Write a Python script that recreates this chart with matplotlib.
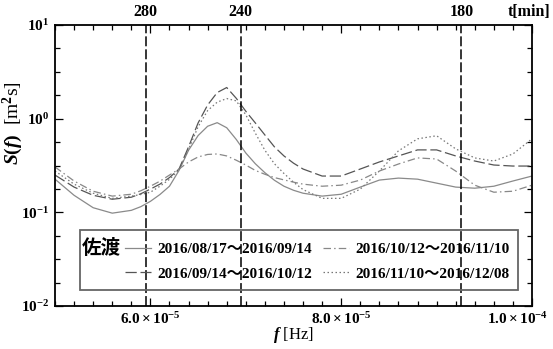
import numpy as np
import matplotlib
matplotlib.use('Agg')
import matplotlib.pyplot as plt
from matplotlib.patches import Rectangle
from matplotlib.ticker import FixedLocator, MultipleLocator, LogLocator, NullFormatter, FixedFormatter
import matplotlib.transforms as mtransforms

plt.rcParams['font.family'] = ['Liberation Serif', 'Noto Sans CJK JP']
plt.rcParams['font.weight'] = 'bold'
plt.rcParams['mathtext.fontset'] = 'custom'
plt.rcParams['mathtext.rm'] = 'Liberation Serif:bold'
plt.rcParams['mathtext.it'] = 'Liberation Serif:italic:bold'
plt.rcParams['mathtext.bf'] = 'Liberation Serif:bold'

# frequency grid [x1e-5 Hz]
freq = np.array([5.0, 5.2, 5.4, 5.6, 5.8, 5.9, 6.0, 6.1, 6.2, 6.3, 6.4, 6.5, 6.6, 6.7, 6.8, 6.9,
                 7.0, 7.1, 7.2, 7.3, 7.4, 7.5, 7.6, 7.8, 8.0, 8.2, 8.4, 8.6, 8.8, 9.0, 9.2,
                 9.4, 9.6, 9.8, 10.0]) * 1e-5

s_0817 = [0.226, 0.152, 0.112, 0.098, 0.105, 0.115, 0.131, 0.155, 0.190, 0.280, 0.460, 0.660, 0.830, 0.906,
          0.800, 0.600, 0.430, 0.330, 0.265, 0.220, 0.190, 0.172, 0.160, 0.149, 0.156, 0.186, 0.221, 0.232,
          0.226, 0.205, 0.186, 0.181, 0.190, 0.216, 0.244]
s_0914 = [0.250, 0.186, 0.152, 0.138, 0.145, 0.158, 0.177, 0.200, 0.235, 0.290, 0.500, 0.900, 1.40, 1.90,
          2.15, 1.65, 1.20, 0.900, 0.670, 0.500, 0.400, 0.335, 0.290, 0.244, 0.244, 0.290, 0.345, 0.400,
          0.464, 0.464, 0.400, 0.353, 0.320, 0.312, 0.312]
s_1012 = [0.305, 0.216, 0.168, 0.149, 0.156, 0.170, 0.190, 0.215, 0.250, 0.290, 0.345, 0.390, 0.415, 0.420,
          0.400, 0.360, 0.320, 0.280, 0.255, 0.235, 0.222, 0.210, 0.200, 0.190, 0.195, 0.221, 0.276, 0.328,
          0.381, 0.371, 0.276, 0.195, 0.164, 0.168, 0.195]
s_1110 = [0.276, 0.200, 0.160, 0.141, 0.149, 0.155, 0.164, 0.190, 0.225, 0.285, 0.470, 0.820, 1.22, 1.50,
          1.64, 1.55, 1.10, 0.700, 0.460, 0.330, 0.260, 0.210, 0.175, 0.141, 0.141, 0.177, 0.276, 0.453,
          0.609, 0.657, 0.476, 0.381, 0.353, 0.420, 0.609]

labels = ['2016/08/17〜2016/09/14', '2016/09/14〜2016/10/12',
          '2016/10/12〜2016/11/10', '2016/11/10〜2016/12/08']
periods = [280, 240, 180]  # t [min]

fig = plt.figure(figsize=(5.53, 3.49), dpi=100)
ax = fig.add_axes([55 / 553, 43 / 349, 477 / 553, 281 / 349])

l1, = ax.plot(freq, s_0817, color='#8a8a8a', lw=0.9, ls='-')
l2, = ax.plot(freq, s_0914, color='#555555', lw=0.9, dashes=(9, 3))
l3, = ax.plot(freq, s_1012, color='#888888', lw=0.9, dashes=(6, 2.5, 1.2, 2.5))
l4, = ax.plot(freq, s_1110, color='#777777', lw=0.9, dashes=(1.2, 2))

for p in periods:
    ax.axvline(1.0 / (p * 60), color='black', lw=1.1, dashes=(6.5, 2), zorder=5)
    ax.text(1.0 / (p * 60), 1.018, str(p), transform=ax.get_xaxis_transform(),
            ha='center', va='bottom', fontsize=11.5)
ax.text(550 / 553, 1 - 20 / 349, 't[min]', transform=fig.transFigure,
        ha='right', va='bottom', fontsize=11.5)

ax.set_yscale('log')
ax.set_xlim(5e-5, 1e-4)
ax.set_ylim(1e-2, 1e1)

ax.xaxis.set_major_locator(FixedLocator([6e-5, 8e-5, 1e-4]))
ax.xaxis.set_major_formatter(FixedFormatter([r'$\mathdefault{6.0\times10^{-5}}$',
                                             r'$\mathdefault{8.0\times10^{-5}}$',
                                             r'$\mathdefault{1.0\times10^{-4}}$']))
ax.xaxis.set_minor_locator(MultipleLocator(0.2e-5))
ax.yaxis.set_major_locator(LogLocator(base=10, numticks=10))
ax.yaxis.set_minor_locator(LogLocator(base=10, subs=(10 ** 0.25, 10 ** 0.5, 10 ** 0.75), numticks=10))
ax.yaxis.set_minor_formatter(NullFormatter())

ax.tick_params(which='both', direction='in', top=True, right=True, labelsize=11, width=0.9, pad=4)
ax.tick_params(which='major', length=6)
ax.tick_params(which='minor', length=3.5)
for sp in ax.spines.values():
    sp.set_linewidth(1.3)

# last x label shifted left to stay inside the figure
offset = mtransforms.ScaledTranslation(-14 / 100, 0, fig.dpi_scale_trans)
lab = ax.get_xticklabels()[-1]
lab.set_transform(lab.get_transform() + offset)

ax.set_xlabel(r'$\mathit{f}$ [Hz]', fontsize=12, labelpad=-2)
ax.set_ylabel(r'$\mathit{S(f)}$  [m$^{\mathrm{2}}$s]', fontsize=14)
ax.yaxis.set_label_coords(-0.062, 0.65)

# legend box
ax.add_patch(Rectangle((0.052, 0.057), 0.919, 0.213, transform=ax.transAxes,
                       fill=False, edgecolor='#666666', lw=1.3, zorder=6))
ax.text(0.057, 0.205, '佐渡', transform=ax.transAxes, ha='left', va='center',
        fontsize=14, family='Noto Sans CJK JP', fontweight='bold', zorder=7)
leg = ax.legend([l1, l2, l3, l4], labels, ncol=2, loc='center', bbox_to_anchor=(0.55, 0.158),
                frameon=False, fontsize=11, handlelength=1.7, handletextpad=0.45,
                columnspacing=0.7, labelspacing=0.7, borderpad=0)

fig.savefig('out.png', dpi=100)
